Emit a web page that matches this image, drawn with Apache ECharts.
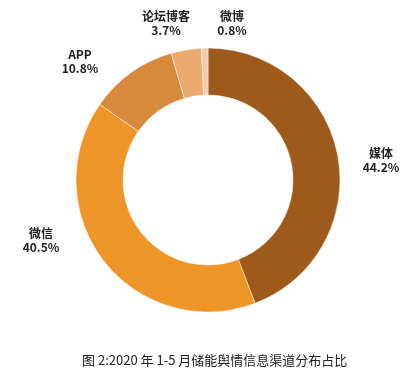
<!DOCTYPE html>
<html><head><meta charset="utf-8">
<script src="https://cdn.jsdelivr.net/npm/echarts@6/dist/echarts.min.js"></script>
<style>html,body{margin:0;padding:0;background:#fff}#c{width:400px;height:374px}</style>
</head><body><div id="c"></div>
<script>
const categories = ['媒体', '微信', 'APP', '论坛博客', '微博'];
const values = [44.2, 40.5, 10.8, 3.7, 0.8];
const colors = ['#9E5A1A', '#EE9527', '#D88A3C', '#EBAA6E', '#F3CBA8'];
const caption = '图 2:2020 年 1-5 月储能舆情信息渠道分布占比';
const labelPos = [[381, 160], [41, 240], [80, 61], [166, 23], [232, 23]];

const chart = echarts.init(document.getElementById('c'));
chart.setOption({
  animation: false,
  title: {
    text: caption, left: 77, top: 349,
    textStyle: { fontSize: 13, fontWeight: 'normal', color: '#222', fontFamily: 'Noto Sans CJK SC' }
  },
  series: [{
    type: 'pie',
    center: [208, 180],
    radius: [85, 132],
    startAngle: 90,
    clockwise: true,
    avoidLabelOverlap: false,
    data: categories.map((n, i) => ({ name: n, value: values[i], itemStyle: { color: colors[i] } })),
    itemStyle: { borderColor: 'rgba(255,255,255,0.6)', borderWidth: 0.8 },
    label: {
      show: true, position: 'outside',
      formatter: p => p.name + '\n' + p.value.toFixed(1) + '%',
      fontSize: 12, fontWeight: 'bold', color: '#222', lineHeight: 14, align: 'center',
      fontFamily: 'Noto Sans CJK SC'
    },
    labelLine: { show: false },
    labelLayout: p => ({ x: labelPos[p.dataIndex][0], y: labelPos[p.dataIndex][1], align: 'center', verticalAlign: 'middle', hideOverlap: false, moveOverlap: false })
  }]
});
</script></body></html>
